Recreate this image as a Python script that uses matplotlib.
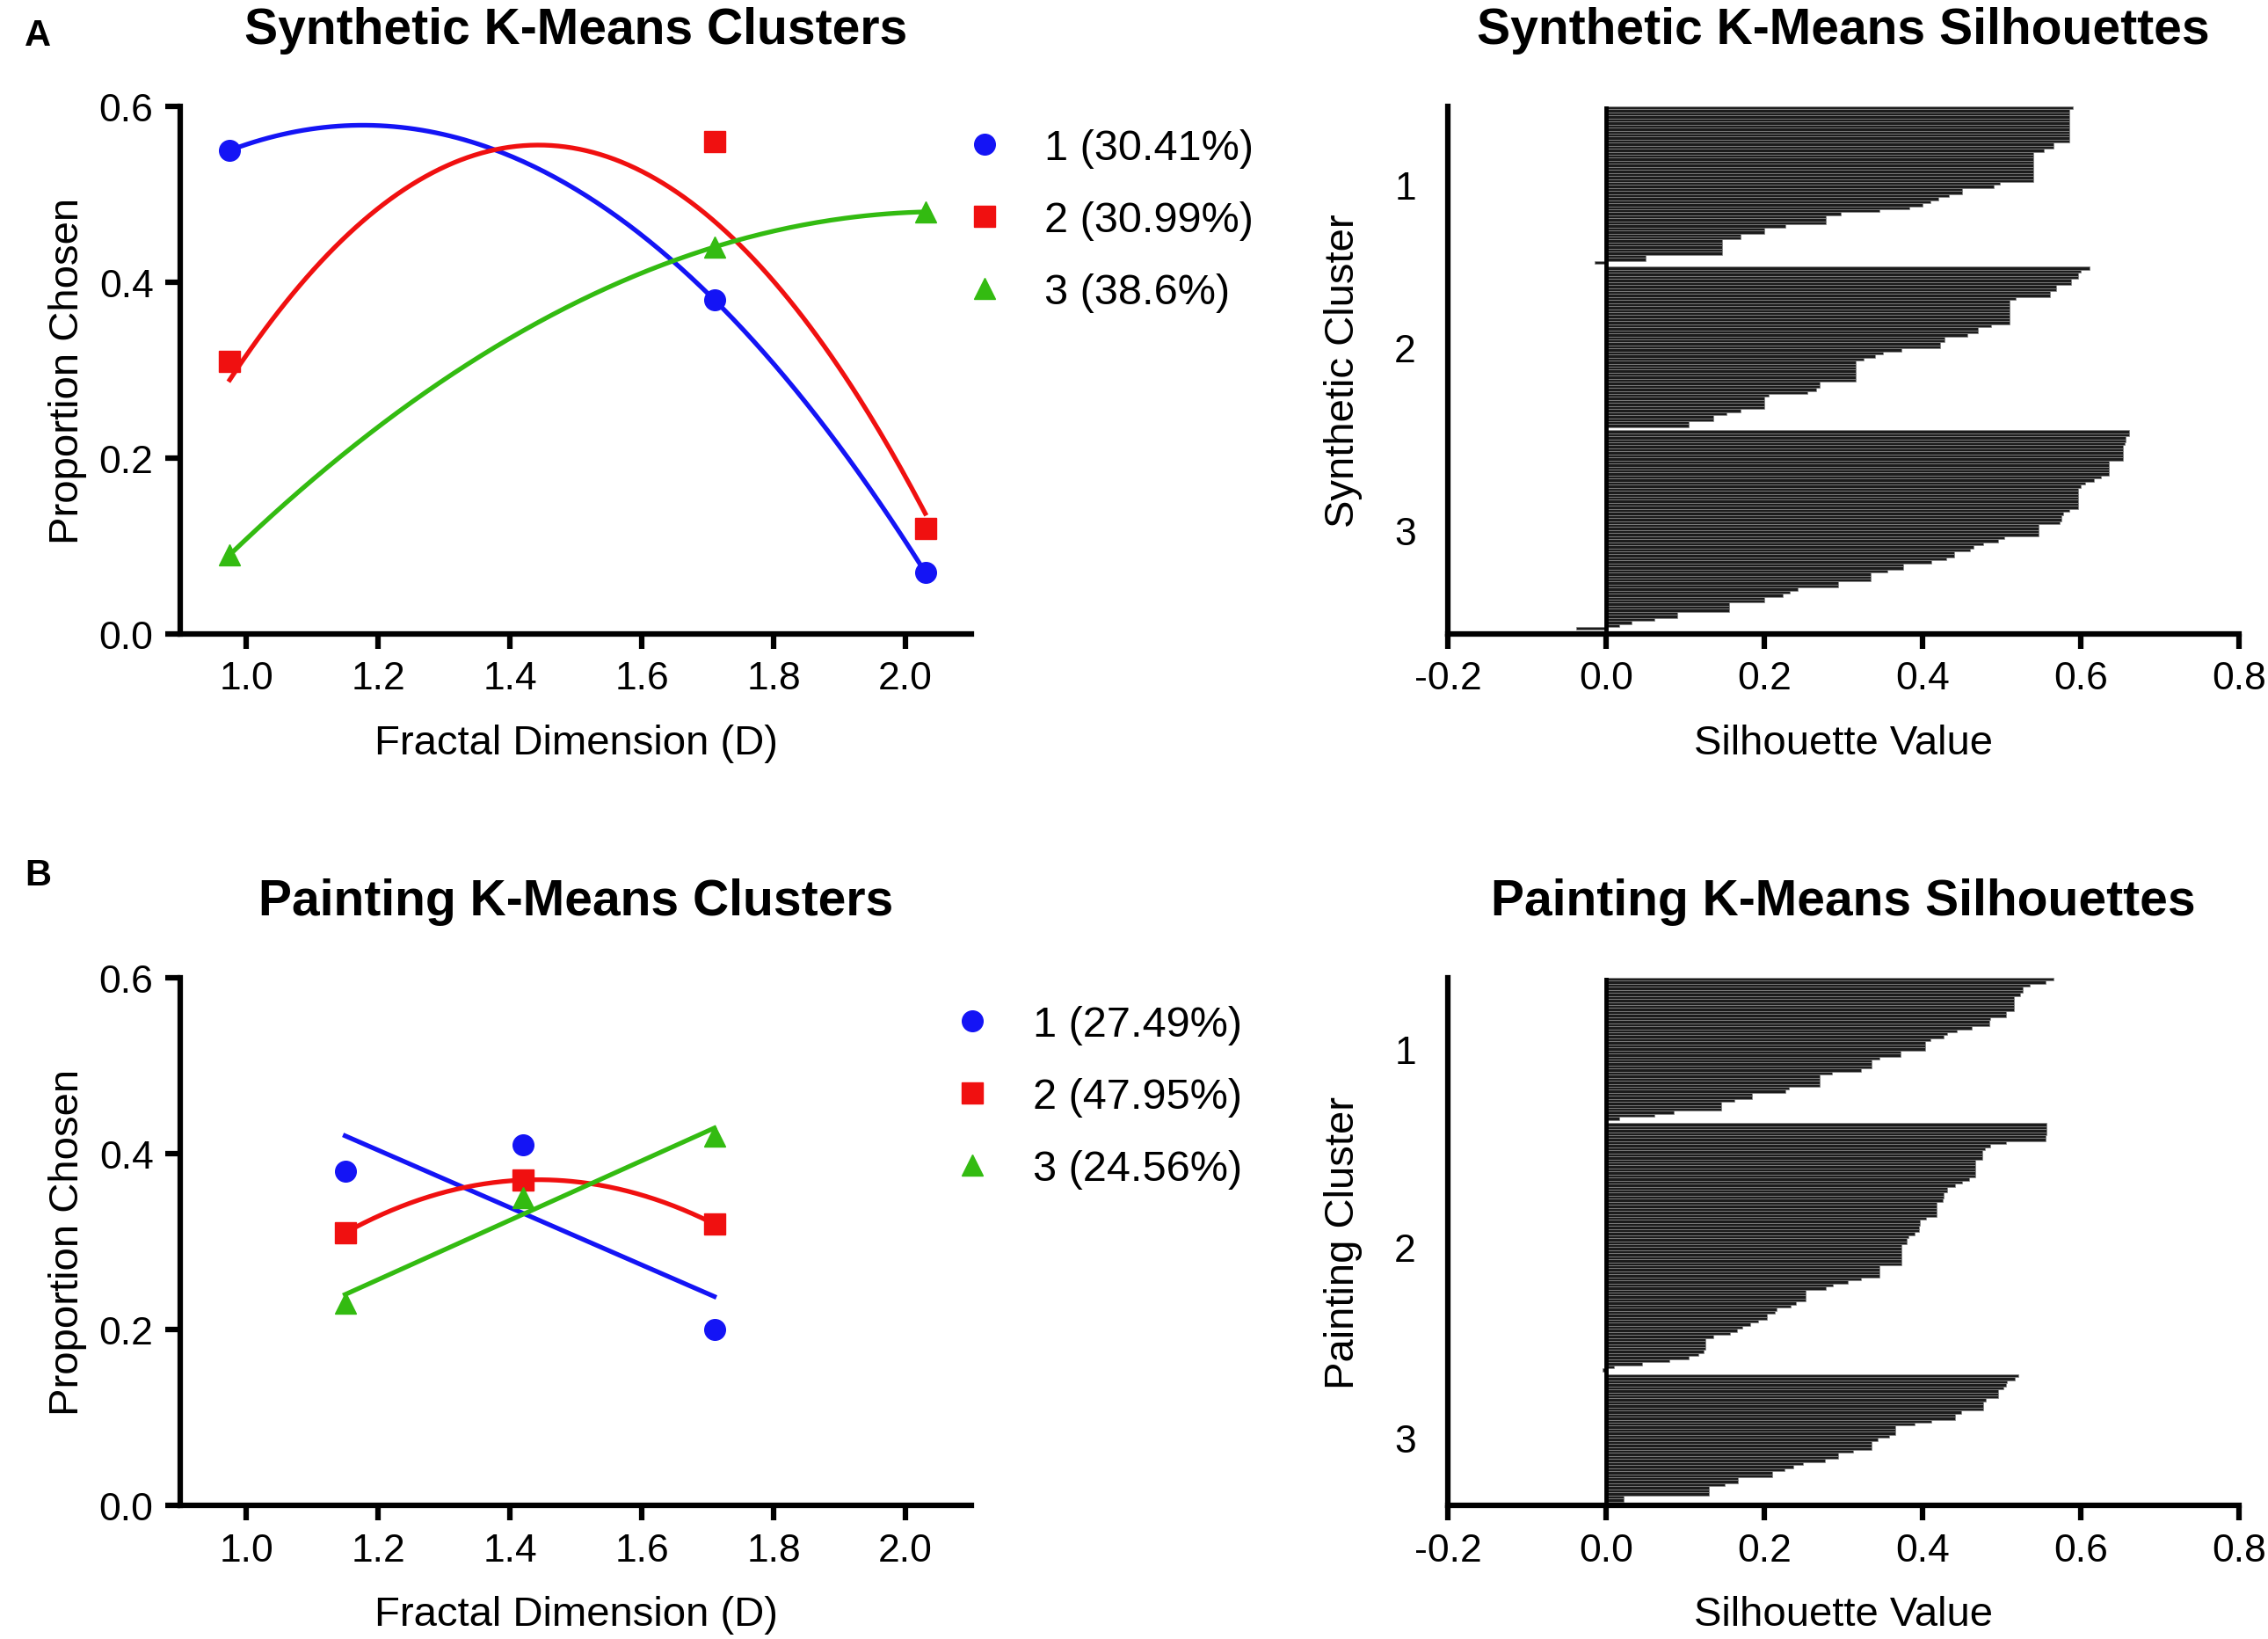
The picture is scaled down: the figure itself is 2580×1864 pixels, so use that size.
#!/usr/bin/env python3
import numpy as np
import matplotlib
matplotlib.use('Agg')
import matplotlib.pyplot as plt
from matplotlib.lines import Line2D

plt.rcParams['font.family'] = ['Liberation Sans', 'DejaVu Sans']

## Data
# Panel A, synthetic stimuli
syn_x = [0.975, 1.71, 2.03]
syn_c1 = [0.55, 0.38, 0.07]
syn_c2 = [0.31, 0.56, 0.12]
syn_c3 = [0.09, 0.44, 0.48]
# fitted red curve does not pass through its points, so read from the curve
syn_c2_fit_x = [0.975, 1.444, 2.03]
syn_c2_fit_y = [0.289, 0.556, 0.137]
syn_labels = ['1 (30.41%)', '2 (30.99%)', '3 (38.6%)']

# Panel B, paintings
pnt_x = [1.15, 1.42, 1.71]
pnt_c1 = [0.38, 0.41, 0.20]
pnt_c2 = [0.31, 0.37, 0.32]
pnt_c3 = [0.23, 0.35, 0.42]
pnt_labels = ['1 (27.49%)', '2 (47.95%)', '3 (24.56%)']

# Silhouette values, sorted within each cluster
syn_sil_1 = [0.590, 0.585, 0.585, 0.585, 0.585, 0.585, 0.585, 0.585, 0.585,
             0.585, 0.585, 0.585, 0.566, 0.566, 0.553, 0.540, 0.540, 0.540,
             0.540, 0.540, 0.540, 0.540, 0.540, 0.540, 0.540, 0.498, 0.490,
             0.450, 0.450, 0.433, 0.420, 0.410, 0.400, 0.383, 0.345, 0.297,
             0.278, 0.278, 0.278, 0.227, 0.200, 0.200, 0.170, 0.170, 0.147,
             0.147, 0.147, 0.147, 0.147, 0.050, 0.050, -0.015]
syn_sil_2 = [0.611, 0.600, 0.597, 0.597, 0.588, 0.588, 0.569, 0.569, 0.561,
             0.561, 0.518, 0.510, 0.510, 0.510, 0.510, 0.510, 0.510, 0.510,
             0.510, 0.487, 0.470, 0.470, 0.457, 0.428, 0.428, 0.422, 0.422,
             0.373, 0.350, 0.340, 0.326, 0.315, 0.315, 0.315, 0.315, 0.315,
             0.315, 0.315, 0.270, 0.270, 0.265, 0.254, 0.205, 0.200, 0.200,
             0.200, 0.200, 0.170, 0.152, 0.135, 0.135, 0.104, 0.104]
syn_sil_3 = [0.661, 0.661, 0.657, 0.657, 0.655, 0.653, 0.653, 0.653, 0.653,
             0.653, 0.636, 0.636, 0.636, 0.636, 0.636, 0.626, 0.617, 0.605,
             0.600, 0.597, 0.597, 0.597, 0.597, 0.597, 0.597, 0.597, 0.585,
             0.578, 0.576, 0.576, 0.573, 0.547, 0.547, 0.547, 0.547, 0.503,
             0.495, 0.477, 0.464, 0.460, 0.440, 0.440, 0.430, 0.411, 0.375,
             0.375, 0.355, 0.334, 0.334, 0.334, 0.293, 0.293, 0.242, 0.232,
             0.223, 0.200, 0.200, 0.155, 0.155, 0.155, 0.090, 0.090, 0.061,
             0.032, 0.017, -0.038]
pnt_sil_1 = [0.565, 0.556, 0.536, 0.527, 0.527, 0.523, 0.516, 0.516, 0.516,
             0.516, 0.516, 0.506, 0.506, 0.486, 0.484, 0.484, 0.462, 0.443,
             0.431, 0.427, 0.410, 0.403, 0.403, 0.403, 0.372, 0.372, 0.345,
             0.335, 0.335, 0.335, 0.322, 0.285, 0.270, 0.270, 0.270, 0.270,
             0.231, 0.227, 0.184, 0.184, 0.162, 0.145, 0.145, 0.145, 0.085,
             0.061, 0.017]
pnt_sil_2 = [0.557, 0.557, 0.557, 0.557, 0.556, 0.556, 0.506, 0.486, 0.479,
             0.476, 0.476, 0.476, 0.467, 0.467, 0.467, 0.467, 0.467, 0.467,
             0.459, 0.450, 0.441, 0.431, 0.431, 0.427, 0.427, 0.425, 0.418,
             0.418, 0.418, 0.418, 0.418, 0.404, 0.397, 0.397, 0.395, 0.395,
             0.390, 0.382, 0.380, 0.380, 0.373, 0.373, 0.373, 0.373, 0.373,
             0.373, 0.373, 0.346, 0.345, 0.345, 0.345, 0.322, 0.305, 0.287,
             0.278, 0.252, 0.252, 0.252, 0.252, 0.240, 0.233, 0.216, 0.213,
             0.203, 0.203, 0.192, 0.182, 0.172, 0.165, 0.157, 0.136, 0.126,
             0.126, 0.126, 0.126, 0.123, 0.117, 0.104, 0.080, 0.046, 0.010,
             -0.005]
pnt_sil_3 = [0.521, 0.517, 0.507, 0.505, 0.502, 0.496, 0.496, 0.496, 0.480,
             0.477, 0.477, 0.477, 0.449, 0.441, 0.441, 0.411, 0.390, 0.366,
             0.366, 0.366, 0.358, 0.343, 0.336, 0.336, 0.336, 0.312, 0.293,
             0.293, 0.277, 0.249, 0.237, 0.225, 0.210, 0.210, 0.167, 0.167,
             0.150, 0.130, 0.130, 0.130, 0.022, 0.022]

## Styles
blue = '#1414f5'
red = '#f01010'
green = '#33bb11'
tick_fs = 32
label_fs = 34
title_fs = 41
legend_fs = 35
spine_lw = 4.5

fig = plt.figure(figsize=(25.8, 18.65), dpi=100)

def style_axes(ax):
    for side in ['top', 'right']:
        ax.spines[side].set_visible(False)
    for side in ['left', 'bottom']:
        ax.spines[side].set_linewidth(spine_lw)
    ax.tick_params(direction='out', length=12, width=spine_lw,
                   labelsize=tick_fs, pad=10)

def fit_panel(rect, x, ys, fits, labels, title, legend_xy):
    ax = fig.add_axes(rect)
    style_axes(ax)
    markers = ['o', 's', '^']
    colors = [blue, red, green]
    xx = np.linspace(min(x), max(x), 200)
    for y, (fx, fy, deg), m, c in zip(ys, fits, markers, colors):
        coef = np.polyfit(fx, fy, deg)
        ax.plot(xx, np.polyval(coef, xx), color=c, lw=3.8, zorder=2)
        ax.plot(x, y, ls='none', marker=m, ms=17, color=c, mec=c, zorder=3)
    ax.set_xlim(0.9, 2.1)
    ax.set_ylim(0, 0.6)
    ax.set_xticks([1.0, 1.2, 1.4, 1.6, 1.8, 2.0])
    ax.set_yticks([0.0, 0.2, 0.4, 0.6])
    ax.xaxis.set_major_formatter(matplotlib.ticker.FormatStrFormatter('%.1f'))
    ax.yaxis.set_major_formatter(matplotlib.ticker.FormatStrFormatter('%.1f'))
    ax.set_xlabel('Fractal Dimension (D)', fontsize=label_fs, labelpad=22)
    ax.set_ylabel('Proportion Chosen', fontsize=label_fs, labelpad=10)
    ax.set_title(title, fontsize=title_fs, fontweight='bold', pad=52)
    handles = [Line2D([], [], ls='none', marker=m, ms=17, color=c)
               for m, c in zip(markers, colors)]
    ax.legend(handles, labels, loc='upper left', bbox_to_anchor=legend_xy,
              frameon=False, fontsize=legend_fs, handlelength=1.0,
              handletextpad=0.9, labelspacing=0.76, borderaxespad=0)
    return ax

def sil_panel(rect, clusters, ylabel, title):
    ax = fig.add_axes(rect)
    style_axes(ax)
    start = 0
    centers = []
    for vals in clusters:
        pos = start + np.arange(len(vals))
        ax.barh(pos, vals, height=1.0, color='#1c1c1c', edgecolor='#8a8a8a',
                linewidth=0.5, zorder=2)
        centers.append(start + (len(vals) - 1) / 2)
        start += len(vals) + 1
    ax.axvline(0, color='black', lw=3.5, zorder=3)
    ax.set_xlim(-0.2, 0.8)
    ax.set_ylim(start - 0.2, -0.5)
    ax.set_xticks([-0.2, 0.0, 0.2, 0.4, 0.6, 0.8])
    ax.xaxis.set_major_formatter(matplotlib.ticker.FormatStrFormatter('%.1f'))
    ax.set_yticks(centers)
    ax.set_yticklabels(['1', '2', '3'])
    ax.tick_params(axis='y', length=0, pad=26)
    ax.set_xlabel('Silhouette Value', fontsize=label_fs, labelpad=22)
    ax.set_ylabel(ylabel, fontsize=label_fs, labelpad=26)
    ax.set_title(title, fontsize=title_fs, fontweight='bold', pad=52)
    return ax

left_w = 0.3488
right_x = 1647 / 2580
right_w = 900 / 2580
h = 0.3217

fit_panel([0.0795, 0.6129, left_w, h], syn_x, [syn_c1, syn_c2, syn_c3],
          [(syn_x, syn_c1, 2), (syn_c2_fit_x, syn_c2_fit_y, 2),
           (syn_x, syn_c3, 2)],
          syn_labels, 'Synthetic K-Means Clusters', (0.968, 0.99))
sil_panel([right_x, 0.6129, right_w, h], [syn_sil_1, syn_sil_2, syn_sil_3],
          'Synthetic Cluster', 'Synthetic K-Means Silhouettes')

fit_panel([0.0795, 0.0815, left_w, h], pnt_x, [pnt_c1, pnt_c2, pnt_c3],
          [(pnt_x, pnt_c1, 1), (pnt_x, pnt_c2, 2), (pnt_x, pnt_c3, 1)],
          pnt_labels, 'Painting K-Means Clusters', (0.953, 0.98))
sil_panel([right_x, 0.0815, right_w, h], [pnt_sil_1, pnt_sil_2, pnt_sil_3],
          'Painting Cluster', 'Painting K-Means Silhouettes')

fig.text(0.011, 0.978, 'A', fontsize=30, fontweight='bold', va='center')
fig.text(0.011, 0.466, 'B', fontsize=30, fontweight='bold', va='center')

plt.savefig('out.png', dpi=100)
plt.close(fig)
